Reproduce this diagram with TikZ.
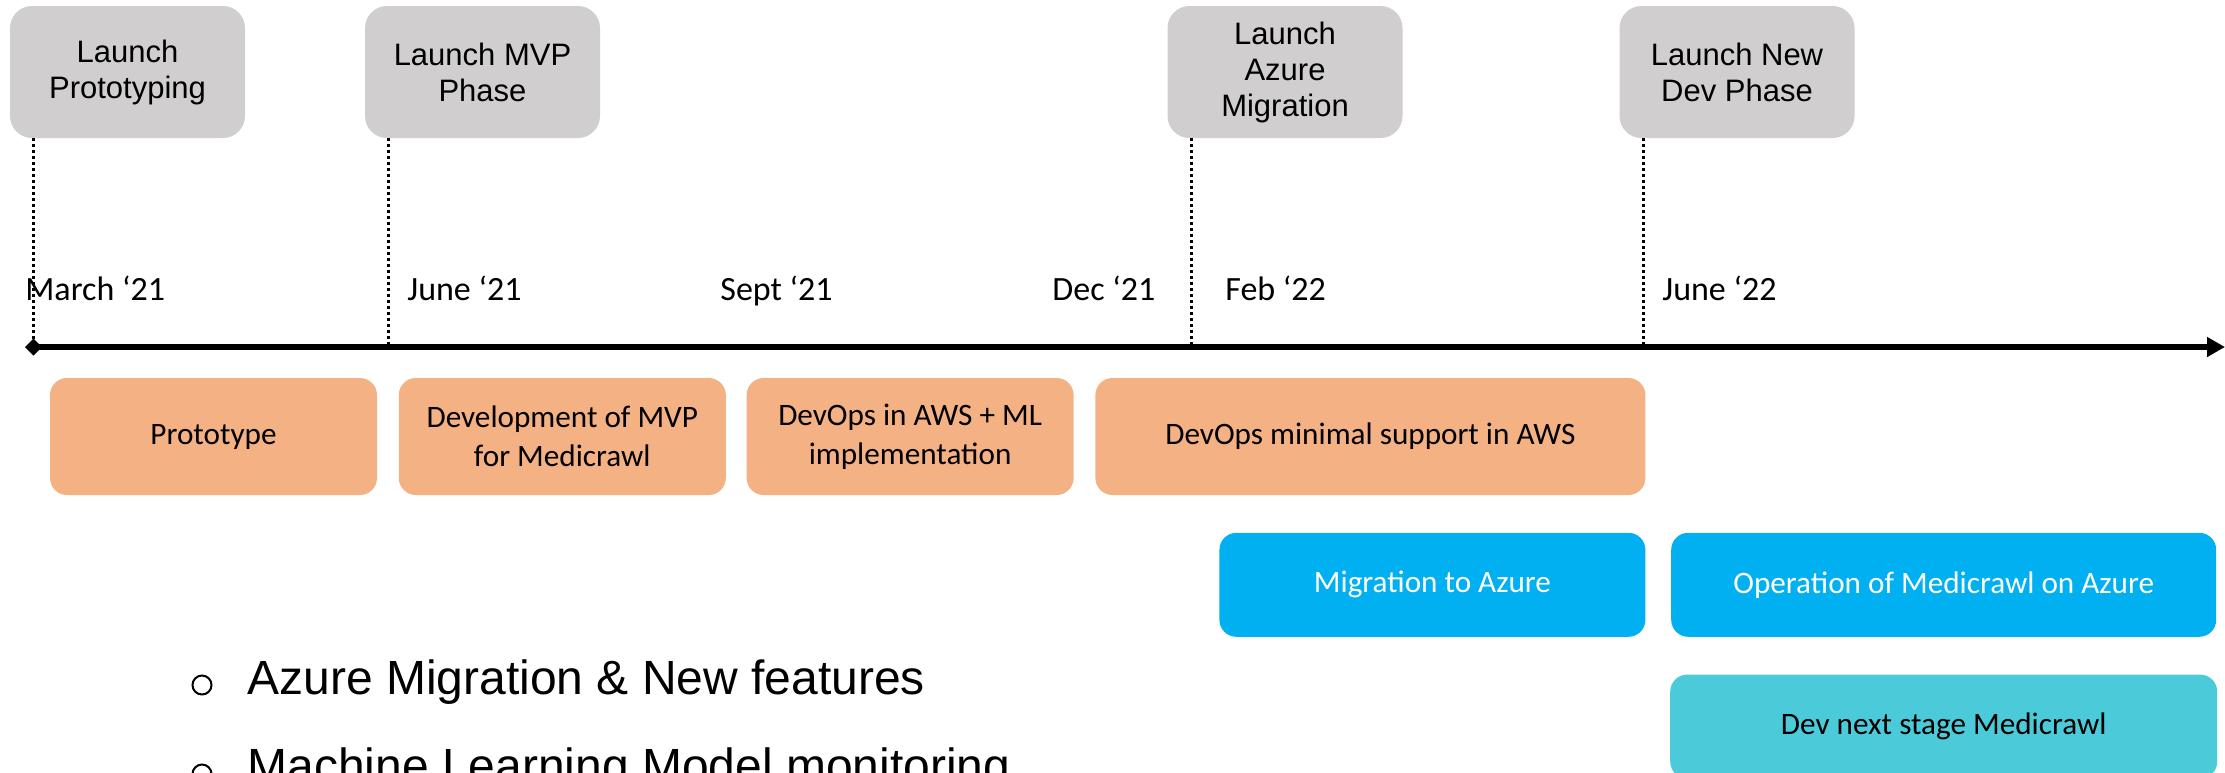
\documentclass[tikz,border=0pt]{standalone}
\usepackage{fontspec}
\setmainfont{Carlito}
\newfontfamily\arialfont{Liberation Sans}
\usepackage{tikz}
\usetikzlibrary{positioning,arrows.meta}
\definecolor{msgray}{HTML}{D0CECE}
\definecolor{phaseorange}{HTML}{F4B183}
\definecolor{azureblue}{HTML}{00B0F0}
\definecolor{devteal}{HTML}{4BCBD9}

\begin{document}
\begin{tikzpicture}[x=0.5pt,y=-0.5pt,
        milestone/.style={rectangle,rounded corners=11pt,fill=msgray,minimum width=117.5pt,minimum height=66pt,inner sep=0pt,align=center,font=\arialfont\fontsize{15.5}{18}\selectfont},
        phase/.style={rectangle,rounded corners=8.5pt,fill=phaseorange,minimum width=163.5pt,minimum height=58.5pt,inner sep=0pt,align=center,font=\fontsize{15.6}{19.5}\selectfont},
        azure/.style={phase,fill=azureblue,text=white,minimum height=52pt},
        nextdev/.style={phase,fill=devteal,minimum height=52pt},
        datelabel/.style={anchor=base west,inner sep=0pt,font=\fontsize{17}{20}\selectfont},
        droplink/.style={line width=1.5pt,dash pattern=on 1.5pt off 1.5pt},
        timeline/.style={line width=3.2pt,{Diamond[length=8.5pt,width=8.5pt]}-{Triangle[length=9pt,width=9.5pt]}},
        bulletmark/.style={circle,draw,line width=1pt,minimum size=9.5pt,inner sep=0pt},
        bullettext/.style={anchor=base west,inner sep=0pt,font=\arialfont\fontsize{24}{28}\selectfont}]

        \useasboundingbox (0,0) rectangle (2225,772);
        \clip (0,0) rectangle (2225,772);

        \node[milestone] (P) at (127.5,72) {Launch\\Prototyping};
        \node[milestone] (M) at (482.5,72) {Launch MVP\\Phase};
        \node[milestone] (A) at (1285,72) {Launch\\Azure\\Migration};
        \node[milestone] (N) at (1737,72) {Launch New\\Dev Phase};

        \coordinate (start) at (25,347);
        \coordinate (end) at (2225,347);
        \coordinate (tP) at (33,347);
        \coordinate (tM) at (388,347);
        \coordinate (tA) at (1191,347);
        \coordinate (tN) at (1643,347);

        \path[droplink,draw]
        (P.south -| tP) -- (tP)
        (M.south -| tM) -- (tM)
        (A.south -| tA) -- (tA)
        (N.south -| tN) -- (tN);

        \draw[timeline] (start) -- (end);

        \node[datelabel] (mar21) at (25,300) {March ‘21};
        \node[datelabel] (jun21) at (407,300) {June ‘21};
        \node[datelabel] (sep21) at (720,300) {Sept ‘21};
        \node[datelabel] (dec21) at (1052,300) {Dec ‘21};
        \node[datelabel] (feb22) at (1225,300) {Feb ‘22};
        \node[datelabel] (jun22) at (1662,300) {June ‘22};

        \node[phase] (proto) at (213.5,436.5) {Prototype};
        \node[phase,right=10.5pt of proto] (mvp) {Development of MVP\\for Medicrawl};
        \node[phase,right=10pt of mvp] (awsml) {DevOps in AWS + ML\\implementation};
        \node[phase,minimum width=275pt,right=10.5pt of awsml] (awsmin) {DevOps minimal support in AWS};

        \node[azure,minimum width=213pt,below left=18.5pt and 0pt of awsmin.south east] (migr) {Migration to Azure};
        \node[azure,minimum width=272.5pt,right=12.5pt of migr] (oper) {Operation of Medicrawl on Azure};
        \node[nextdev,minimum width=273.5pt,below=18.5pt of oper] (next) {Dev next stage Medicrawl};

        \node[bulletmark] (c1) at (202,685) {};
        \node[bullettext] (item1) at (247,694) {Azure Migration \& New features};
        \node[bulletmark] (c2) at (202,774) {};
        \node[bullettext] (item2) at (247,782) {Machine Learning Model monitoring};
    \end{tikzpicture}
\end{document}
